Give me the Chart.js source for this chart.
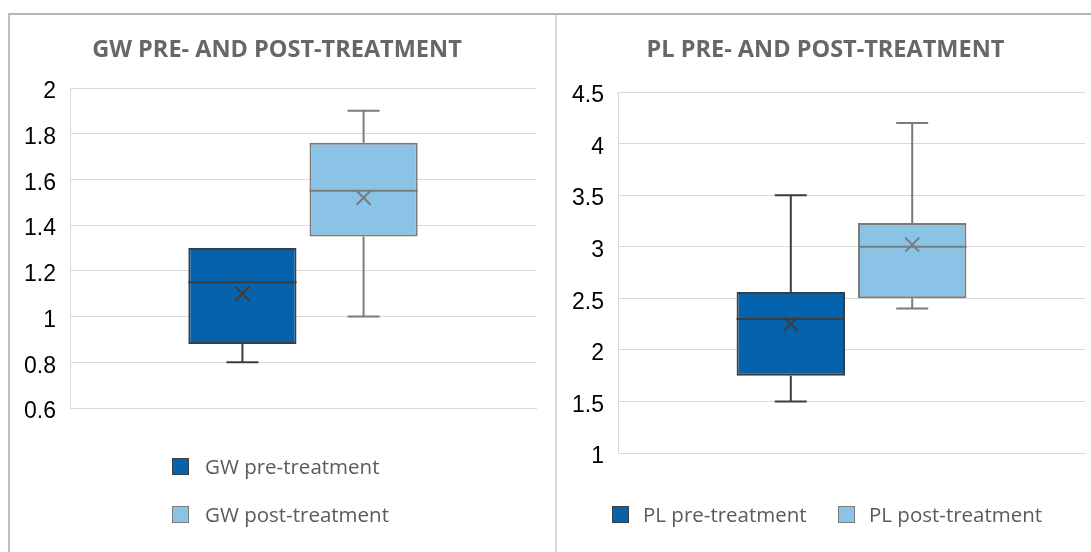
<!DOCTYPE html>
<html>
<head>
<meta charset="utf-8">
<title>GW / PL pre- and post-treatment</title>
<script src="https://cdn.jsdelivr.net/npm/chart.js@4.4.1/dist/chart.umd.min.js"></script>
<style>
  html, body { margin: 0; padding: 0; background: #fff; }
  body { width: 1091px; height: 552px; position: relative; overflow: hidden; font-family: "Open Sans", sans-serif; }
  .frame { position: absolute; left: 8px; top: 13px; right: -4px; bottom: -4px; border-top: 2px solid #b5b5b5; border-left: 2px solid #bdbdbd; }
  .divider { position: absolute; left: 555px; top: 15px; bottom: 0; width: 2px; background: #dadada; }
  canvas { position: absolute; top: 15px; }
  #gw-chart { left: 10px; }
  #pl-chart { left: 557px; }
  .sw { position: absolute; width: 17px; height: 17px; box-sizing: border-box; border: 1.5px solid; }
  .lt { position: absolute; font-size: 20.5px; line-height: 24px; color: #5e5959; white-space: nowrap; }
</style>
</head>
<body>
<div class="frame"></div>
<div class="divider"></div>
<canvas id="gw-chart" width="545" height="537"></canvas>
<canvas id="pl-chart" width="534" height="537"></canvas>
<div id="legends"></div>

<script>
// box stats (min, quartiles, median, max, mean "x")
const gwGroups = ['GW pre-treatment', 'GW post-treatment'];
const gwMin    = [0.80, 1.00];
const gwQ1     = [0.88, 1.35];
const gwMedian = [1.15, 1.55];
const gwQ3     = [1.30, 1.76];
const gwMax    = [1.30, 1.90];
const gwMean   = [1.10, 1.52];
const gwTicks  = [0.6, 0.8, 1, 1.2, 1.4, 1.6, 1.8, 2];

const plGroups = ['PL pre-treatment', 'PL post-treatment'];
const plMin    = [1.50, 2.40];
const plQ1     = [1.75, 2.50];
const plMedian = [2.30, 3.00];
const plQ3     = [2.56, 3.23];
const plMax    = [3.50, 4.20];
const plMean   = [2.25, 3.02];
const plTicks  = [1, 1.5, 2, 2.5, 3, 3.5, 4, 4.5];

const fills = ['#0562ad', '#8bc3e7'];
const edges = ['#3d3d3d', '#7b7b7b'];

// whiskers, median line and mean cross on top of the floating bars
const boxParts = {
  id: 'boxParts',
  afterDatasetsDraw(chart) {
    const { ctx } = chart;
    const y = chart.scales.y;
    chart.data.datasets.forEach((ds, i) => {
      const bar = chart.getDatasetMeta(i).data[0];
      const { x, width } = bar.getProps(['x', 'width'], true);
      const s = ds.stats;
      const py = v => y.getPixelForValue(v);
      const cap = 16, m = 7;
      ctx.save();
      ctx.strokeStyle = ds.borderColor;
      ctx.lineWidth = 2;
      ctx.beginPath();
      if (s.max > s.q3) {
        ctx.moveTo(x, py(s.q3)); ctx.lineTo(x, py(s.max));
        ctx.moveTo(x - cap, py(s.max)); ctx.lineTo(x + cap, py(s.max));
      }
      if (s.min < s.q1) {
        ctx.moveTo(x, py(s.q1)); ctx.lineTo(x, py(s.min));
        ctx.moveTo(x - cap, py(s.min)); ctx.lineTo(x + cap, py(s.min));
      }
      ctx.moveTo(x - width / 2, py(s.median)); ctx.lineTo(x + width / 2, py(s.median));
      ctx.moveTo(x - m, py(s.mean) - m); ctx.lineTo(x + m, py(s.mean) + m);
      ctx.moveTo(x - m, py(s.mean) + m); ctx.lineTo(x + m, py(s.mean) - m);
      ctx.stroke();
      ctx.restore();
    });
  }
};

function boxChart(el, o) {
  return new Chart(el, {
    type: 'bar',
    data: {
      labels: [''],
      datasets: o.groups.map((g, i) => ({
        label: g,
        data: [[o.q1[i], o.q3[i]]],
        backgroundColor: fills[i],
        borderColor: edges[i],
        borderWidth: 2,
        borderSkipped: false,
        barPercentage: 0.893,
        categoryPercentage: 0.52,
        stats: { min: o.min[i], q1: o.q1[i], median: o.median[i], q3: o.q3[i], max: o.max[i], mean: o.mean[i] }
      }))
    },
    options: {
      responsive: false,
      animation: false,
      layout: { padding: o.pad },
      plugins: {
        legend: { display: false },
        tooltip: { enabled: false },
        title: {
          display: true, text: o.title, color: '#6b6565',
          font: { family: "'Open Sans', sans-serif", size: 23.5, weight: 'bold', lineHeight: 1.2 },
          padding: { top: 21, bottom: o.titleGap }
        }
      },
      scales: {
        x: {
          grid: { display: false, drawTicks: false },
          ticks: { display: false },
          border: { display: true, color: '#d9d9d9' }
        },
        y: {
          min: o.ticks[0], max: o.ticks[o.ticks.length - 1],
          afterBuildTicks: s => { s.ticks = o.ticks.map(v => ({ value: v })); },
          afterFit: s => { s.width = 52; },
          grid: { color: '#d9d9d9', lineWidth: 1, drawTicks: false },
          border: { display: true, color: '#d9d9d9' },
          ticks: {
            padding: 14, labelOffset: 4, color: '#000',
            font: { family: "'Liberation Sans', Arial, sans-serif", size: 23 },
            callback: v => String(+v.toFixed(2))
          }
        }
      }
    },
    plugins: [boxParts]
  });
}

function legend(groups, spots) {
  const host = document.getElementById('legends');
  groups.forEach((g, i) => {
    const [sx, cy, tx] = spots[i];
    host.insertAdjacentHTML('beforeend',
      `<div class="sw" style="left:${sx}px;top:${cy - 8}px;background:${fills[i]};border-color:${edges[i]}"></div>` +
      `<div class="lt" style="left:${tx}px;top:${cy - 12}px">${g}</div>`);
  });
}

document.addEventListener('DOMContentLoaded', () => {
  boxChart(document.getElementById('gw-chart'), {
    title: 'GW PRE- AND POST-TREATMENT', groups: gwGroups,
    min: gwMin, q1: gwQ1, median: gwMedian, q3: gwQ3, max: gwMax, mean: gwMean, ticks: gwTicks,
    pad: { left: 8, right: 19, top: 0, bottom: 144 }, titleGap: 23.8
  });
  boxChart(document.getElementById('pl-chart'), {
    title: 'PL PRE- AND POST-TREATMENT', groups: plGroups,
    min: plMin, q1: plQ1, median: plMedian, q3: plQ3, max: plMax, mean: plMean, ticks: plTicks,
    pad: { left: 9, right: 6, top: 0, bottom: 99 }, titleGap: 27.8
  });
  legend(gwGroups, [[172, 466, 205], [172, 514, 205]]);
  legend(plGroups, [[612, 514, 643], [838, 514, 869]]);
});
</script>
</body>
</html>
